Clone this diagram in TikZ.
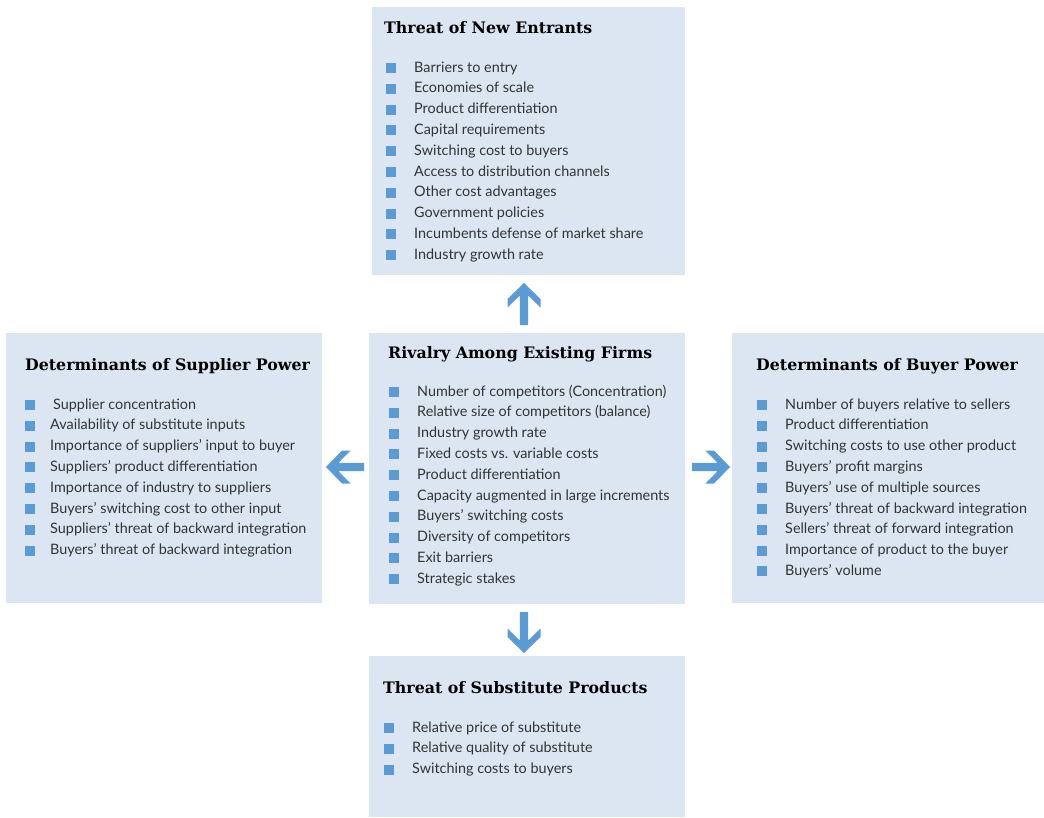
\documentclass[tikz,border=0pt]{standalone}
\usepackage{fontspec}
\setmainfont{Lato}
\newfontfamily\titlefont{DejaVu Serif}
\usetikzlibrary{calc}
\definecolor{boxbg}{HTML}{DCE6F2}
\definecolor{bul}{HTML}{5B9BD5}
\definecolor{arr}{HTML}{5B9BD5}
\definecolor{txt}{HTML}{333333}
\tikzset{
 box/.style={fill=boxbg, draw=none, inner sep=0pt, outer sep=0pt, anchor=north west},
 ttl/.style={font=\titlefont\bfseries\fontsize{15.8}{20}\selectfont, text=black, inner sep=0pt, anchor=base west},
 itm/.style={font=\fontsize{14.4}{18}\selectfont, text=txt, inner sep=0pt, anchor=base west},
}
\newcommand\mklist[5]{%
 \foreach \itemtext [count=\i] in {#5} {
   \pgfmathsetmacro\yy{#4+(\i-1)*20.8}
   \node[itm] (#1\i) at (#2,\yy) {\itemtext};
   \fill[bul] (#3,\yy+1) rectangle ++(9.5,-10);
 }}
\newcommand\blockarrow[5]{% name, tip x, tip y, rotation, length
 \coordinate (#1) at (#2,#3);
 \fill[arr, shift={(#1)}, rotate=#4] (0,0) -- (16.5,16) -- (16.5,24.5) -- (4.2,12.5) -- (4.2,#5) -- (-4.2,#5) -- (-4.2,12.5) -- (-16.5,24.5) -- (-16.5,16) -- cycle;}
\begin{document}
\begin{tikzpicture}[x=1pt,y=-1pt]
\useasboundingbox (0,0) rectangle (1044,817);
% boxes
\node[box, minimum width=313pt, minimum height=268pt] (tbox) at (372,7) {};
\node[box, minimum width=316pt, minimum height=271pt] (cbox) at (369,333) {};
\node[box, minimum width=316pt, minimum height=270pt] (lbox) at (6,333) {};
\node[box, minimum width=312pt, minimum height=270pt] (rbox) at (732,333) {};
\node[box, minimum width=316pt, minimum height=161pt] (bbox) at (369,656) {};
% titles
\node[ttl] (tt) at (384,33) {Threat of New Entrants};
\node[ttl] (ct) at (388,358) {Rivalry Among Existing Firms};
\node[ttl] (lt) at (25,370) {Determinants of Supplier Power};
\node[ttl] (rt) at (756,370) {Determinants of Buyer Power};
\node[ttl] (bt) at (383,693) {Threat of Substitute Products};
% lists
\mklist{ti}{414}{386}{72}{Barriers to entry,Economies of scale,Product differentiation,Capital requirements,Switching cost to buyers,Access to distribution channels,Other cost advantages,Government policies,Incumbents defense of market share,Industry growth rate}
\mklist{ci}{417}{389}{396}{Number of competitors (Concentration),Relative size of competitors (balance),Industry growth rate,Fixed costs vs. variable costs,Product differentiation,Capacity augmented in large increments,Buyers' switching costs,Diversity of competitors,Exit barriers,Strategic stakes}
\mklist{li}{50}{25}{409}{\hspace*{3pt}Supplier concentration,Availability of substitute inputs,Importance of suppliers' input to buyer,Suppliers' product differentiation,Importance of industry to suppliers,Buyers' switching cost to other input,Suppliers' threat of backward integration,Buyers' threat of backward integration}
\mklist{ri}{785}{757}{409}{Number of buyers relative to sellers,Product differentiation,Switching costs to use other product,Buyers' profit margins,Buyers' use of multiple sources,Buyers' threat of backward integration,Sellers' threat of forward integration,Importance of product to the buyer,Buyers' volume}
\mklist{bi}{412}{384}{732}{Relative price of substitute,Relative quality of substitute,Switching costs to buyers}
% arrows
\blockarrow{aup}{524}{283}{0}{42}
\blockarrow{adown}{524}{653}{180}{41}
\blockarrow{aleft}{326}{467}{90}{38}
\blockarrow{aright}{730}{467}{-90}{38}
\end{tikzpicture}
\end{document}
